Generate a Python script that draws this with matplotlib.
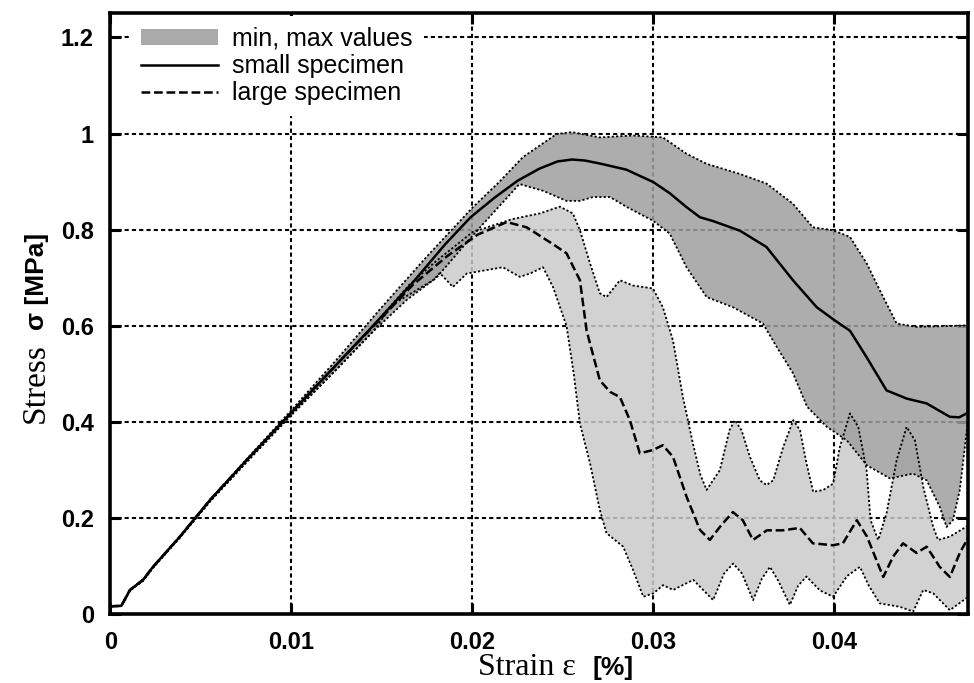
import matplotlib
matplotlib.use('Agg')
import matplotlib.pyplot as plt
import numpy as np
from matplotlib.patches import Patch
from matplotlib.lines import Line2D

# small specimen mean curve
small_x = [0, 0.0006, 0.00108, 0.0018, 0.00235, 0.00384, 0.0055, 0.0075, 0.01, 0.0125, 0.0145,
           0.0167, 0.0185, 0.0199, 0.0212, 0.0225, 0.0237, 0.0247, 0.0255, 0.0262, 0.027, 0.0285,
           0.03, 0.0309, 0.03183, 0.03257, 0.0333, 0.03478, 0.03625, 0.03771, 0.03902, 0.04,
           0.04086, 0.04178, 0.04288, 0.04399, 0.04509, 0.04638, 0.0469, 0.0474]
small_y = [0.017, 0.018, 0.051, 0.072, 0.099, 0.162, 0.238, 0.32, 0.42, 0.52, 0.60,
           0.69, 0.77, 0.826, 0.866, 0.902, 0.927, 0.942, 0.946, 0.944, 0.938, 0.925,
           0.899, 0.876, 0.847, 0.826, 0.818, 0.798, 0.764, 0.695, 0.639, 0.612,
           0.59, 0.535, 0.466, 0.449, 0.439, 0.411, 0.41, 0.42]

# large specimen mean curve
large_x = [0, 0.0006, 0.00108, 0.0018, 0.00235, 0.00384, 0.0055, 0.0075, 0.01, 0.0125, 0.0145,
           0.0167, 0.0186, 0.0203, 0.0219, 0.023, 0.02445, 0.0252, 0.02594, 0.02631, 0.02704,
           0.0276, 0.02815, 0.0287, 0.02925, 0.02997, 0.03052, 0.03108, 0.03183, 0.03257,
           0.03312, 0.03367, 0.03439, 0.03494, 0.0355, 0.03627, 0.03715, 0.03809, 0.03881,
           0.03992, 0.04047, 0.04124, 0.0418, 0.0427, 0.04324, 0.04379, 0.04454, 0.0451,
           0.04582, 0.04638, 0.04693, 0.0474]
large_y = [0.017, 0.018, 0.051, 0.072, 0.099, 0.162, 0.238, 0.32, 0.42, 0.52, 0.598,
           0.685, 0.745, 0.79, 0.816, 0.805, 0.77, 0.751, 0.695, 0.59, 0.487,
           0.463, 0.452, 0.404, 0.335, 0.342, 0.352, 0.328, 0.245, 0.176,
           0.155, 0.182, 0.213, 0.196, 0.155, 0.175, 0.175, 0.18, 0.148,
           0.144, 0.148, 0.196, 0.162, 0.078, 0.12, 0.148, 0.128, 0.141,
           0.099, 0.078, 0.128, 0.16]

# min / max envelope, small specimen
small_max_x = [0, 0.0006, 0.00108, 0.0018, 0.00235, 0.00384, 0.0055, 0.0075, 0.01, 0.0125, 0.0149,
               0.0175, 0.02003, 0.0215, 0.02279, 0.02465, 0.0255, 0.02704, 0.02887, 0.03052,
               0.03183, 0.03294, 0.03478, 0.03625, 0.03771, 0.03881, 0.03992, 0.04086, 0.0418,
               0.04251, 0.04344, 0.04454, 0.0474]
small_max_y = [0.017, 0.018, 0.051, 0.072, 0.099, 0.162, 0.238, 0.322, 0.425, 0.53, 0.635,
               0.745, 0.847, 0.90, 0.951, 0.999, 1.003, 0.992, 0.996, 0.992,
               0.958, 0.937, 0.916, 0.896, 0.854, 0.805, 0.799, 0.785, 0.729,
               0.674, 0.605, 0.598, 0.601]
small_min_x = [0, 0.0006, 0.00108, 0.0018, 0.00235, 0.00384, 0.0055, 0.0075, 0.01, 0.0125, 0.0145,
               0.0164, 0.018, 0.0203, 0.0226, 0.0239, 0.0252, 0.02594, 0.02666, 0.0276, 0.02854,
               0.02997, 0.0309, 0.03183, 0.03294, 0.03439, 0.03605, 0.03682, 0.03771, 0.03849,
               0.03959, 0.04069, 0.0418, 0.04307, 0.04435, 0.0451, 0.04582, 0.0462, 0.04655,
               0.04693, 0.0474]
small_min_y = [0.017, 0.018, 0.05, 0.07, 0.097, 0.16, 0.235, 0.316, 0.415, 0.51, 0.588,
               0.655, 0.70, 0.80, 0.895, 0.881, 0.86, 0.86, 0.868, 0.868, 0.847,
               0.819, 0.792, 0.722, 0.66, 0.639, 0.605, 0.556, 0.502, 0.432,
               0.39, 0.362, 0.31, 0.283, 0.293, 0.279, 0.224, 0.182, 0.196,
               0.259, 0.41]

# min / max envelope, large specimen
large_max_x = [0, 0.0006, 0.00108, 0.0018, 0.00235, 0.00384, 0.0055, 0.0075, 0.01, 0.0125, 0.0145,
               0.0165, 0.018, 0.02, 0.0222, 0.02373, 0.02483, 0.02555, 0.02594, 0.02649, 0.02704,
               0.02741, 0.02815, 0.02887, 0.02997, 0.03052, 0.03108, 0.03163, 0.03218, 0.0326,
               0.03294, 0.03367, 0.0342, 0.0345, 0.03487, 0.03533, 0.03588, 0.03625, 0.03662,
               0.03717, 0.03773, 0.0381, 0.03846, 0.03883, 0.03939, 0.03993, 0.0403, 0.04086,
               0.04132, 0.04178, 0.042, 0.04242, 0.04288, 0.04344, 0.04399, 0.04445, 0.04491,
               0.04546, 0.04573, 0.04638, 0.0474]
large_max_y = [0.017, 0.018, 0.051, 0.072, 0.099, 0.162, 0.238, 0.32, 0.42, 0.52, 0.60,
               0.685, 0.735, 0.795, 0.822, 0.834, 0.848, 0.834, 0.799, 0.731, 0.668,
               0.66, 0.695, 0.684, 0.678, 0.639, 0.57, 0.452, 0.356, 0.29,
               0.259, 0.30, 0.383, 0.404, 0.383, 0.328, 0.279, 0.269, 0.279,
               0.348, 0.404, 0.383, 0.314, 0.255, 0.259, 0.272, 0.348, 0.418,
               0.39, 0.30, 0.196, 0.155, 0.21, 0.321, 0.39, 0.362, 0.265,
               0.182, 0.155, 0.162, 0.185]
large_min_x = [0, 0.0006, 0.00108, 0.0018, 0.00235, 0.00384, 0.0055, 0.0075, 0.01, 0.0125, 0.0145,
               0.01561, 0.01782, 0.0182, 0.01892, 0.01969, 0.02168, 0.02262, 0.02318, 0.0239,
               0.02445, 0.0252, 0.0256, 0.02594, 0.0265, 0.02704, 0.02741, 0.02833, 0.02888,
               0.02944, 0.03, 0.03054, 0.03109, 0.0322, 0.0333, 0.0339, 0.03441, 0.0349, 0.03551,
               0.036, 0.03644, 0.0369, 0.03754, 0.038, 0.03846, 0.0392, 0.03993, 0.0407, 0.04141,
               0.0419, 0.04251, 0.04362, 0.04435, 0.04491, 0.04546, 0.04638, 0.0474]
large_min_y = [0.017, 0.018, 0.05, 0.07, 0.097, 0.16, 0.235, 0.316, 0.415, 0.51, 0.588,
               0.645, 0.695, 0.71, 0.681, 0.709, 0.722, 0.702, 0.709, 0.722,
               0.681, 0.60, 0.50, 0.397, 0.314, 0.217, 0.169, 0.141, 0.092,
               0.037, 0.044, 0.061, 0.051, 0.072, 0.03, 0.085, 0.106, 0.085, 0.03,
               0.075, 0.099, 0.07, 0.02, 0.06, 0.079, 0.05, 0.037, 0.08, 0.099,
               0.06, 0.023, 0.016, 0.006, 0.051, 0.044, 0.009, 0.037]

xticks = [0, 0.01, 0.02, 0.03, 0.04]
xtick_labels = ['0', '0.01', '0.02', '0.03', '0.04']
yticks = [0, 0.2, 0.4, 0.6, 0.8, 1.0, 1.2]
ytick_labels = ['0', '0.2', '0.4', '0.6', '0.8', '1', '1.2']

fig = plt.figure(figsize=(9.74, 6.83), dpi=100)
ax = fig.add_axes([0.1134, 0.1003, 0.8804, 0.8802])

light = '#cacaca'
dark = '#9f9f9f'

# envelopes
ax.fill(np.concatenate([large_max_x, large_min_x[::-1]]),
        np.concatenate([large_max_y, large_min_y[::-1]]),
        color=light, alpha=0.85, lw=0, zorder=1)
ax.fill(np.concatenate([small_max_x, small_min_x[::-1]]),
        np.concatenate([small_max_y, small_min_y[::-1]]),
        color=dark, alpha=0.85, lw=0, zorder=1.5)

dot = (0, (1.2, 1.2))
for xs, ys in [(large_max_x, large_max_y), (large_min_x, large_min_y),
               (small_max_x, small_max_y), (small_min_x, small_min_y)]:
    ax.plot(xs, ys, color='black', lw=1.3, linestyle=dot, zorder=2)

ax.plot(small_x, small_y, color='black', lw=1.8, zorder=3)
ax.plot(large_x, large_y, color='black', lw=1.8, linestyle=(0, (3.5, 1.5)), zorder=3)

ax.set_xlim(0, 0.04738)
ax.set_ylim(0, 1.25)

ax.grid(True, color='black', lw=1.5, linestyle=(0, (2, 1.5)))
ax.set_axisbelow(True)

for s in ax.spines.values():
    s.set_linewidth(2.6)

ax.set_xticks(xticks)
ax.set_xticklabels(xtick_labels)
ax.set_yticks(yticks)
ax.set_yticklabels(ytick_labels)
ax.tick_params(direction='in', length=8, width=2.2, top=True, right=True, pad=12)
for lab in ax.get_xticklabels() + ax.get_yticklabels():
    lab.set_fontfamily('Liberation Sans')
    lab.set_fontweight('bold')
    lab.set_fontsize(17)

# axis labels: serif word, bold sans symbol/unit (as in the original)
ax.text(0.4286, -0.1003, 'Strain ε', transform=ax.transAxes, ha='left', va='baseline',
        family='Liberation Serif', fontsize=23)
ax.text(0.6105, -0.1003, '[%]', transform=ax.transAxes, ha='right', va='baseline',
        family='Liberation Sans', fontweight='bold', fontsize=19)
ax.text(-0.0776, 0.3185, 'Stress', transform=ax.transAxes, ha='left', va='baseline',
        rotation=90, rotation_mode='anchor', family='Liberation Serif', fontsize=24)
ax.text(-0.0776, 0.635, 'σ [MPa]', transform=ax.transAxes, ha='right', va='baseline',
        rotation=90, rotation_mode='anchor', family='Liberation Sans', fontweight='bold',
        fontsize=19)

handles = [Patch(facecolor='#aaaaaa', edgecolor='none'),
           Line2D([], [], color='black', lw=1.8),
           Line2D([], [], color='black', lw=1.8, linestyle=(0, (3.5, 1.5)))]
leg = ax.legend(handles, ['min, max values', 'small specimen', 'large specimen'],
                loc='upper left', bbox_to_anchor=(0.022, 0.996), frameon=True,
                facecolor='white', edgecolor='none', framealpha=1, fancybox=False,
                borderpad=0.45, borderaxespad=0, handlelength=3.1, handleheight=0.6,
                handletextpad=0.55, labelspacing=0.12,
                prop={'family': 'Liberation Sans', 'size': 18})
leg.set_zorder(5)

fig.savefig('out.png', dpi=100)
